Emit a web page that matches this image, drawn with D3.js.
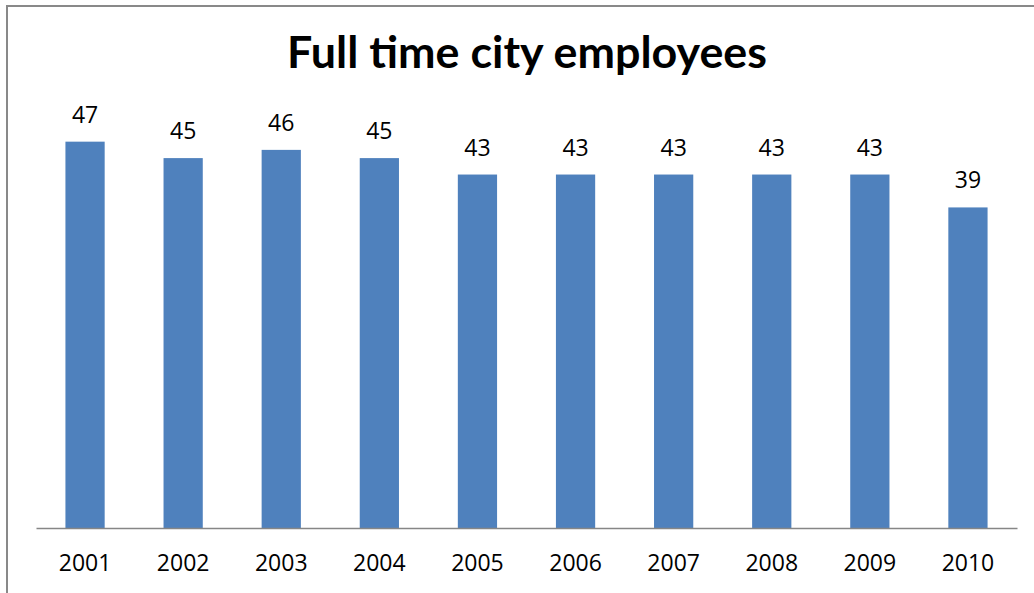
<!DOCTYPE html>
<html>
<head>
<meta charset="utf-8">
<script src="https://cdn.jsdelivr.net/npm/d3@7"></script>
<style>
  html, body { margin: 0; padding: 0; background: #fff; }
  svg { display: block; }
  text { fill: #000; }
</style>
</head>
<body>
<svg id="chart" width="1034" height="593"></svg>
<script>
// Full time city employees by year
const years = ["2001", "2002", "2003", "2004", "2005", "2006", "2007", "2008", "2009", "2010"];
const employees = [47, 45, 46, 45, 43, 43, 43, 43, 43, 39];
const titleText = "Full time city employees";

const numberFont = "'Open Sans', Lato, sans-serif";
const titleFont = "Lato, 'Open Sans', sans-serif";

const svg = d3.select("#chart");
const W = 1034, H = 593;

// Outer chart frame
svg.append("rect")
  .attr("x", 7).attr("y", 6)
  .attr("width", W + 10).attr("height", H + 10)
  .attr("fill", "#fff")
  .attr("stroke", "#898989")
  .attr("stroke-width", 2);

const plot = { left: 36, right: 1017, top: 117, bottom: 528 };

const x = d3.scaleBand()
  .domain(years)
  .range([plot.left, plot.right])
  .paddingInner(0.6)
  .paddingOuter(0.3);

const y = d3.scaleLinear()
  .domain([0, 50])
  .range([plot.bottom, plot.top]);

// Bars
svg.append("g")
  .selectAll("rect")
  .data(years)
  .join("rect")
  .attr("x", d => x(d))
  .attr("y", (d, i) => y(employees[i]))
  .attr("width", x.bandwidth())
  .attr("height", (d, i) => y(0) - y(employees[i]))
  .attr("fill", "#4F81BD");

// Value labels above bars
svg.append("g")
  .selectAll("text")
  .data(years)
  .join("text")
  .attr("x", d => x(d) + x.bandwidth() / 2)
  .attr("y", (d, i) => y(employees[i]) - 19)
  .attr("text-anchor", "middle")
  .style("font-family", numberFont)
  .style("font-size", "23px")
  .text((d, i) => employees[i]);

// Category axis
const xAxis = svg.append("g")
  .attr("transform", `translate(0,${plot.bottom})`)
  .call(d3.axisBottom(x).tickSize(0));
xAxis.select(".domain")
  .attr("stroke", "#868686")
  .attr("stroke-width", 1.5);
xAxis.selectAll(".tick text")
  .attr("y", 43)
  .attr("dy", null)
  .style("font-size", "23px")
  .style("font-family", numberFont)
  .attr("fill", "#000");

// Title, sized to span its natural width
const title = svg.append("text")
  .attr("x", 527)
  .attr("y", 68)
  .attr("text-anchor", "middle")
  .style("font-family", titleFont)
  .style("font-weight", "bold")
  .style("font-size", "36px")
  .text(titleText);
const tw = title.node().getComputedTextLength();
title.style("font-size", (36 * 480 / tw).toFixed(2) + "px");
</script>
</body>
</html>
